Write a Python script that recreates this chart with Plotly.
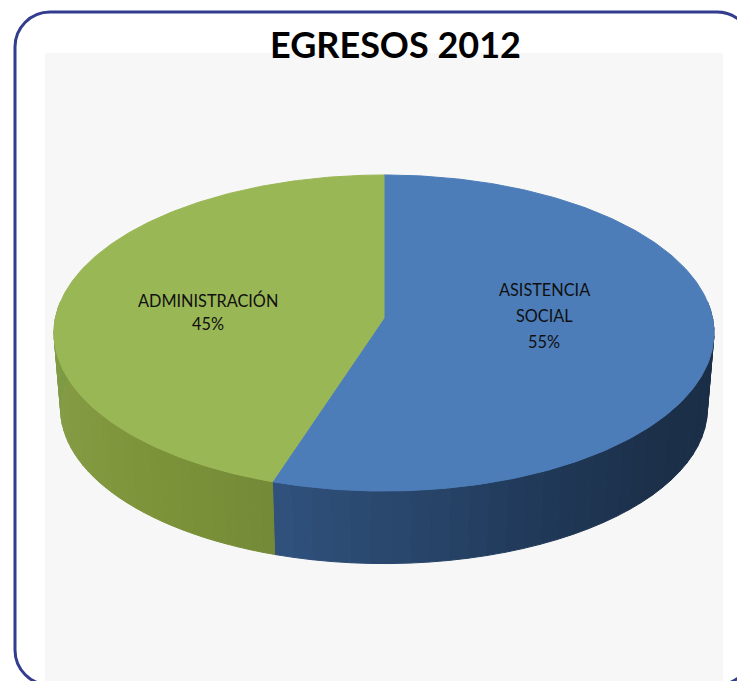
import math
import plotly.graph_objects as go

# ---- data ----
title_text = "EGRESOS 2012"
categories = ["ASISTENCIA<br>SOCIAL", "ADMINISTRACIÓN"]
values = [55, 45]
top_colors = ["#4c7db8", "#9ab756"]
side_ramps = [
    ["#2f527d", "#28456a", "#203857", "#1c304a", "#1b2e47", "#1a2c44"],
    ["#7c9a45", "#849c46", "#82983f", "#7c9239", "#758a37"],
]
label_positions = [(544, 289), (208, 300)]
label_line_gaps = [26, 23]

# ---- pie geometry ----
W, H = 737, 681
CX, CY = 384, 318
R, A, K = 328.5, 156.6, 0.095
DEPTH, BASE_SCALE = 76, 0.98


def project(t, base=False):
    u, v = math.sin(t), math.cos(t)
    d = 1 + K * v
    s = BASE_SCALE if base else 1
    return CX + s * R * u / d, CY + (DEPTH if base else 0) - s * A * v / d


def mix(c1, c2, f):
    a = [int(c1[i:i + 2], 16) for i in (1, 3, 5)]
    b = [int(c2[i:i + 2], 16) for i in (1, 3, 5)]
    return "#%02x%02x%02x" % tuple(round(p + (q - p) * f) for p, q in zip(a, b))


def ramp(colors, f):
    p = f * (len(colors) - 1)
    i = min(int(p), len(colors) - 2)
    return mix(colors[i], colors[i + 1], p - i)


fig = go.Figure()
total = sum(values)
spans = []
start = 0.0
for val in values:
    end = start + val / total * 2 * math.pi
    spans.append((start, end))
    start = end

# Side wall: front-facing part only, in shaded bands
FRONT_A, FRONT_B = math.radians(84), math.radians(276)
for (a0, a1), ramp_cols in zip(spans, side_ramps):
    lo, hi = max(a0, FRONT_A), min(a1, FRONT_B)
    n = 36
    for i in range(n):
        t0 = lo + (hi - lo) * i / n
        t1 = lo + (hi - lo) * (i + 1) / n
        mid = (t0 + t1) / 2
        col = ramp(ramp_cols, (hi - mid) / (hi - lo))
        pts = [project(t0), project(t1), project(t1, True), project(t0, True)]
        xs = [p[0] for p in pts] + [pts[0][0]]
        ys = [p[1] for p in pts] + [pts[0][1]]
        fig.add_trace(go.Scatter(x=xs, y=ys, mode="lines", fill="toself", fillcolor=col,
                                 line=dict(color=col, width=1), hoverinfo="skip", showlegend=False))

# Top faces
for (a0, a1), col in zip(spans, top_colors):
    n = 240
    pts = [project(a0 + (a1 - a0) * i / n) for i in range(n + 1)]
    xs = [CX] + [p[0] for p in pts] + [CX]
    ys = [CY] + [p[1] for p in pts] + [CY]
    fig.add_trace(go.Scatter(x=xs, y=ys, mode="lines", fill="toself", fillcolor=col,
                             line=dict(color=col, width=1), hoverinfo="skip", showlegend=False))

# Labels
annotations = [dict(x=395, y=44, xref="x", yref="y", text=f"<b>{title_text}</b>", showarrow=False,
                    font=dict(family="Lato", size=36, color="#000000"), xanchor="center", yanchor="middle")]
for cat, val, (lx, ly), gap in zip(categories, values, label_positions, label_line_gaps):
    lines = cat.split("<br>") + [f"{round(val / total * 100)}%"]
    for j, line in enumerate(lines):
        annotations.append(dict(x=lx, y=ly + j * gap, xref="x", yref="y", text=line,
                                showarrow=False, xanchor="center", yanchor="middle",
                                font=dict(family="Lato", size=16.3, color="#101010")))

L, T, RT, B, r = 15, 12, 752, 685, 35
c = r * 0.448
border = (f"M{L},{T + r} C{L},{T + c} {L + c},{T} {L + r},{T} L{RT - r},{T} "
          f"C{RT - c},{T} {RT},{T + c} {RT},{T + r} L{RT},{B - r} "
          f"C{RT},{B - c} {RT - c},{B} {RT - r},{B} L{L + r},{B} "
          f"C{L + c},{B} {L},{B - c} {L},{B - r} Z")

fig.update_layout(
    width=W, height=H, margin=dict(l=0, r=0, t=0, b=0), autosize=False,
    paper_bgcolor="#ffffff", plot_bgcolor="#ffffff", showlegend=False,
    xaxis=dict(range=[0, W], visible=False, fixedrange=True),
    yaxis=dict(range=[H, 0], visible=False, fixedrange=True),
    annotations=annotations,
    shapes=[
        dict(type="rect", x0=45, x1=723, y0=53, y1=H, xref="x", yref="y", layer="below",
             fillcolor="#f7f7f7", line=dict(width=0)),
        dict(type="path", path=border, xref="x", yref="y", layer="below",
             line=dict(color="#333c8f", width=3)),
    ],
)
fig.write_html("out.html", config={"displayModeBar": False},
               post_script="document.body.style.margin='0';document.body.style.overflow='hidden';")
